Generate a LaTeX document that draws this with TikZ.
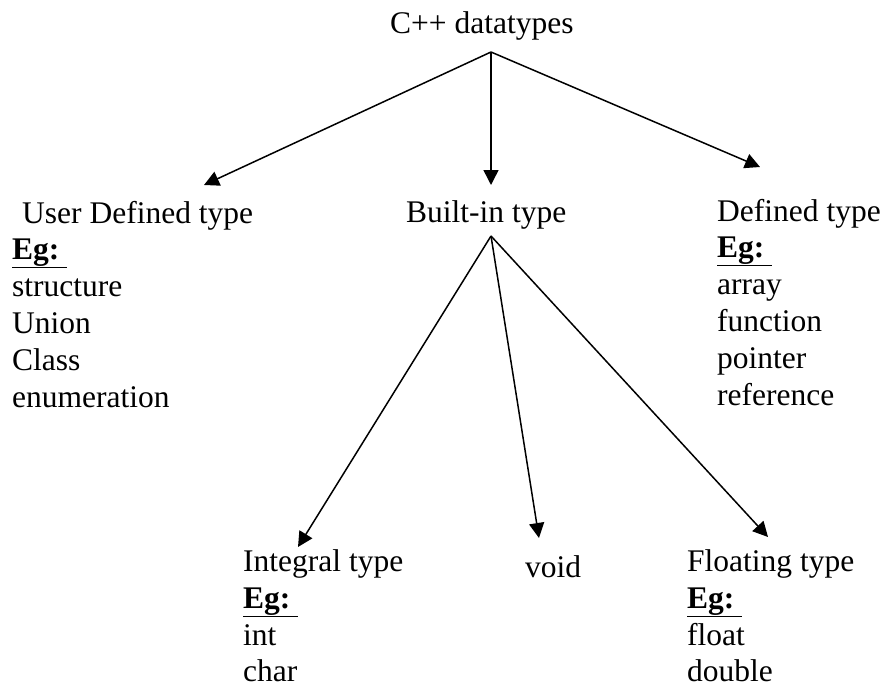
\documentclass[tikz,border=0pt]{standalone}
\usepackage{fontspec}
\setmainfont{Liberation Serif}
\usetikzlibrary{arrows.meta}
\newcommand\egline{\underline{\textbf{Eg:}\ }}
\begin{document}
\begin{tikzpicture}[x=1pt,y=-1pt,
  lbl/.style={anchor=base west,inner sep=0pt,font=\fontsize{31.5}{37}\selectfont},
  arr/.style={line width=1.5pt,-{Triangle[length=15pt,width=15pt]}}]
\useasboundingbox (0,0) rectangle (888,686);
% top
\node[lbl] (root) at (390,33) {C++ datatypes};
\coordinate (rootapex) at (491,52);
% left column
\node[lbl] (udt) at (22,223) {User Defined type};
\node[lbl] (udteg) at (12,259) {\egline};
\node[lbl] (udt1) at (12,296) {structure};
\node[lbl] (udt2) at (12,333) {Union};
\node[lbl] (udt3) at (12,370) {Class};
\node[lbl] (udt4) at (12,407) {enumeration};
\coordinate (udttip) at (204,185);
% middle
\node[lbl] (bit) at (406,222) {Built-in type};
\coordinate (bittip) at (491,185);
\coordinate (bitapex) at (491,236);
% right column
\node[lbl] (dt) at (717,221) {Defined type};
\node[lbl] (dteg) at (717,257) {\egline};
\node[lbl] (dt1) at (717,294) {array};
\node[lbl] (dt2) at (717,331) {function};
\node[lbl] (dt3) at (717,368) {pointer};
\node[lbl] (dt4) at (717,405) {reference};
\coordinate (dttip) at (760,167);
% bottom
\node[lbl] (it) at (243,571) {Integral type};
\node[lbl] (iteg) at (243,608) {\egline};
\node[lbl] (it1) at (243,645) {int};
\node[lbl] (it2) at (243,681) {char};
\coordinate (ittip) at (298,547);
\node[lbl] (vd) at (525,577) {void};
\coordinate (vdtip) at (539,538);
\node[lbl] (ft) at (687,571) {Floating type};
\node[lbl] (fteg) at (687,608) {\egline};
\node[lbl] (ft1) at (687,645) {float};
\node[lbl] (ft2) at (687,681) {double};
\coordinate (fttip) at (768,537);
% arrows
\draw[arr] (rootapex) -- (udttip);
\draw[arr] (rootapex) -- (bittip);
\draw[arr] (rootapex) -- (dttip);
\draw[arr] (bitapex) -- (ittip);
\draw[arr] (bitapex) -- (vdtip);
\draw[arr] (bitapex) -- (fttip);
\end{tikzpicture}
\end{document}
